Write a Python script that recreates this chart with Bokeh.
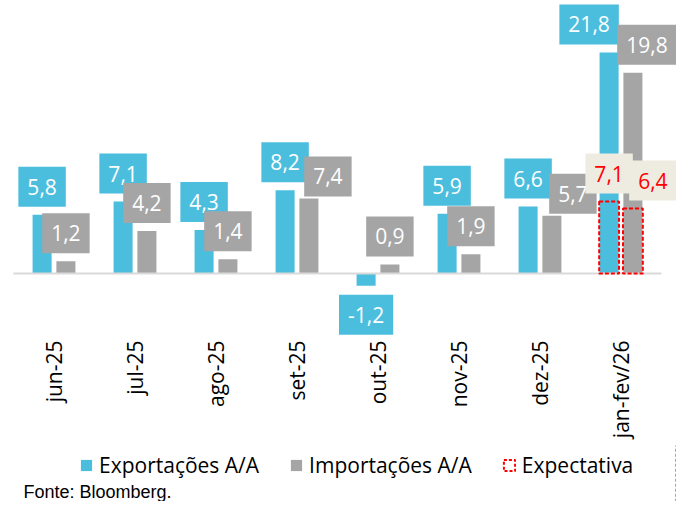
import numpy as np
from bokeh.plotting import figure
from bokeh.layouts import column
from bokeh.models import ColumnDataSource, Range1d, FixedTicker, Legend, LegendItem, Label
from bokeh.core.properties import value
from bokeh.embed import file_html
from bokeh.resources import INLINE

# ---- data ----
categories = ["jun-25", "jul-25", "ago-25", "set-25", "out-25", "nov-25", "dez-25", "jan-fev/26"]
exports = [5.8, 7.1, 4.3, 8.2, -1.2, 5.9, 6.6, 21.8]
imports = [1.2, 4.2, 1.4, 7.4, 0.9, 1.9, 5.7, 19.8]
expect_cat = ["jan-fev/26"]
expect_exp = [7.1]
expect_imp = [6.4]
series_names = ["Exportações A/A", "Importações A/A", "Expectativa"]
source_note = "Fonte: Bloomberg."

# ---- label nudges (screen px) ----
exp_dx = [0, 0, 0, 0, 0, 0, 0, -20]
exp_dy = [-8, -8, -8, -8, 9, -8, -8, -8]
imp_dx = [0, 0, 0, 19, 0, 0, 21, 14]
imp_dy = [-8, -8, -8, -2, -8, -8, -2, -8]
eexp_dx, eexp_dy = [0], [-8]
eimp_dx, eimp_dy = [20], [-8]

BLUE = "#4BBEDE"
GRAY = "#A5A5A5"
RED = "#FF0000"
BEIGE = "#EEECE1"
FONT = "Open Sans"

def fmt(v):
    return f"{v:.1f}".replace(".", ",")

n = len(categories)
xc = np.arange(n) + 0.5
off = 0.147
bw = 0.235
ex_idx = [categories.index(c) + 0.5 for c in expect_cat]

W = 676
CAT_PX = 81.0
p = figure(width=W, height=445, output_backend="svg", toolbar_location=None,
           x_range=Range1d(-13 / CAT_PX, (W - 13) / CAT_PX), y_range=Range1d(-6.11, 26.92),
           min_border_left=0, min_border_right=0, min_border_top=0, min_border_bottom=110,
           y_axis_location=None, outline_line_color=None)
p.grid.visible = False
p.background_fill_color = "white"
p.border_fill_color = "white"

r_exp = p.vbar(x=xc - off, top=exports, bottom=0, width=bw, fill_color=BLUE, line_color=None)
r_imp = p.vbar(x=xc + off, top=imports, bottom=0, width=bw, fill_color=GRAY, line_color=None)

# baseline (category axis line)
p.segment(x0=[0], y0=[0], x1=[n], y1=[0], line_color="#D9D9D9", line_width=2)

p.vbar(x=[x - off for x in ex_idx], top=expect_exp, bottom=0, width=bw + 0.01,
       fill_color=None, line_color=RED, line_width=2, line_dash="4 2")
p.vbar(x=[x + off for x in ex_idx], top=expect_imp, bottom=0, width=bw + 0.01,
       fill_color=None, line_color=RED, line_width=2, line_dash="4 2")

PAD = dict(left=9, right=9, top=12, bottom=12)

def add_labels(xs, ys, dx, dy, anchor, bg, color):
    src = ColumnDataSource(dict(x=list(xs), y=list(ys), text=[fmt(v) for v in ys],
                                dx=list(dx), dy=list(dy)))
    p.text(x="x", y="y", text="text", source=src, x_offset="dx", y_offset="dy",
           anchor=anchor, text_font=value(FONT), text_font_size="21px",
           text_color=color, background_fill_color=bg, border_line_color=None,
           padding=PAD)

pos = [i for i, v in enumerate(exports) if v >= 0]
neg = [i for i, v in enumerate(exports) if v < 0]
add_labels([xc[i] - off for i in pos], [exports[i] for i in pos],
           [exp_dx[i] for i in pos], [exp_dy[i] for i in pos], "bottom_center", BLUE, "white")
add_labels([xc[i] - off for i in neg], [exports[i] for i in neg],
           [exp_dx[i] for i in neg], [exp_dy[i] for i in neg], "top_center", BLUE, "white")
add_labels(xc + off, imports, imp_dx, imp_dy, "bottom_center", GRAY, "white")
add_labels([x - off for x in ex_idx], expect_exp, eexp_dx, eexp_dy, "bottom_center", BEIGE, RED)
add_labels([x + off for x in ex_idx], expect_imp, eimp_dx, eimp_dy, "bottom_center", BEIGE, RED)

# x axis
ax = p.xaxis[0]
ax.ticker = FixedTicker(ticks=list(xc))
ax.major_label_overrides = {float(x): c for x, c in zip(xc, categories)}
ax.major_label_orientation = np.pi / 2
ax.axis_line_color = None
ax.major_tick_line_color = None
ax.minor_tick_line_color = None
ax.major_tick_in = 0
ax.major_tick_out = 0
ax.major_label_standoff = 5
ax.major_label_text_font = FONT
ax.major_label_text_font_size = "21px"
ax.major_label_text_color = "black"

# ---- legend + source strip ----
p2 = figure(width=W, height=56, output_backend="svg", toolbar_location=None,
            x_range=Range1d(-20, -19), y_range=Range1d(0, 1),
            min_border_left=0, min_border_right=0, min_border_top=0, min_border_bottom=0,
            x_axis_location=None, y_axis_location=None, outline_line_color=None)
p2.grid.visible = False
# legend proxies (same data, outside the visible range of this strip)
lr1 = p2.vbar(x=xc, top=exports, width=bw, fill_color=BLUE, line_color=None)
lr2 = p2.vbar(x=xc, top=imports, width=bw, fill_color=GRAY, line_color=None)
lr3 = p2.vbar(x=ex_idx, top=expect_exp, width=bw, fill_color=None, line_color=RED,
              line_width=2, line_dash="3 2")
legend = Legend(items=[LegendItem(label=series_names[0], renderers=[lr1]),
                       LegendItem(label=series_names[1], renderers=[lr2]),
                       LegendItem(label=series_names[2], renderers=[lr3])],
                location=(79, 22), orientation="horizontal",
                glyph_width=14, glyph_height=14, label_standoff=6, spacing=30,
                padding=0, margin=0, border_line_color=None, background_fill_alpha=0,
                label_text_font=FONT, label_text_font_size="21px", label_text_color="black")
p2.add_layout(legend)
p2.add_layout(Label(x=23, y=10, x_units="screen", y_units="screen", text=source_note,
                    text_font="Liberation Sans", text_font_size="18px",
                    text_baseline="alphabetic", text_color="black"))

open("out.html", "w").write(file_html(column(p, p2), INLINE))
